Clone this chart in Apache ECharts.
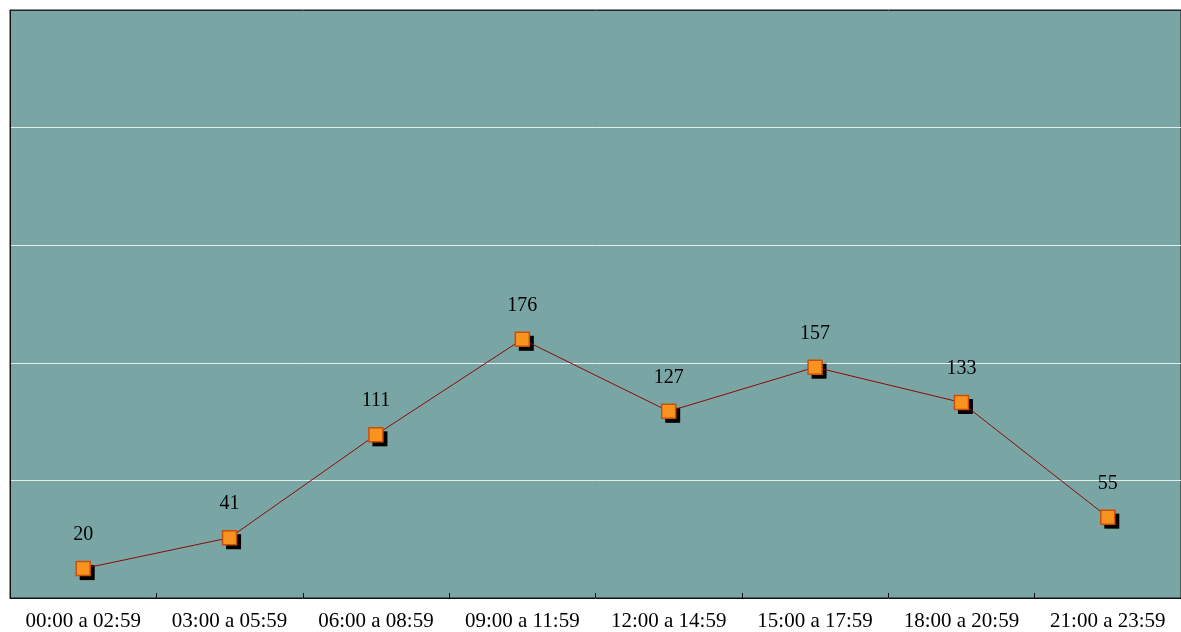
<!DOCTYPE html>
<html><head><meta charset="utf-8">
<script src="https://cdn.jsdelivr.net/npm/echarts@6/dist/echarts.min.js"></script>
<style>html,body{margin:0;padding:0;background:#fff}#c{width:1181px;height:632px}</style>
</head><body><div id="c"></div>
<script>
const categories = ['00:00 a 02:59','03:00 a 05:59','06:00 a 08:59','09:00 a 11:59','12:00 a 14:59','15:00 a 17:59','18:00 a 20:59','21:00 a 23:59'];
const values = [20, 41, 111, 176, 127, 157, 133, 55];
const chart = echarts.init(document.getElementById('c'), null, {renderer:'canvas'});
chart.setOption({
  animation:false,
  backgroundColor:'#ffffff',
  grid:{left:10, top:10, right:-1, bottom:34, show:true, backgroundColor:'#79A6A4', borderColor:'#1a1a1a', borderWidth:1},
  xAxis:[{type:'category', data:categories, boundaryGap:true,
    axisLine:{show:true, lineStyle:{color:'#111', width:1}},
    axisTick:{show:true, inside:true, length:5, interval:0, lineStyle:{color:'#111'}},
    axisLabel:{color:'#000', fontFamily:'Liberation Serif', fontSize:21, margin:13, interval:0}},
    {type:'category', data:categories, position:'top', z:10,
    axisLine:{show:true, lineStyle:{color:'#222', width:1}}, axisTick:{show:false}, axisLabel:{show:false}}],
  yAxis:{type:'value', min:0, max:400, interval:80,
    axisLine:{show:true, lineStyle:{color:'#111'}}, axisTick:{show:false}, axisLabel:{show:false},
    splitLine:{show:true, lineStyle:{color:'#e4eeee', width:1}}},
  series:[
    {type:'line', data:values, symbol:'rect', symbolSize:15, symbolOffset:[4,4],
     lineStyle:{opacity:0}, itemStyle:{color:'#000'}, z:2, silent:true},
    {type:'line', data:values, symbol:'rect', symbolSize:14, z:3,
    lineStyle:{color:'#8B0A0A', width:1},
    itemStyle:{color:'#F7931E', borderColor:'#C8500A', borderWidth:1.5},
    label:{show:true, position:'top', distance:16, color:'#000', fontFamily:'Liberation Serif', fontSize:20}}]
});
</script></body></html>
